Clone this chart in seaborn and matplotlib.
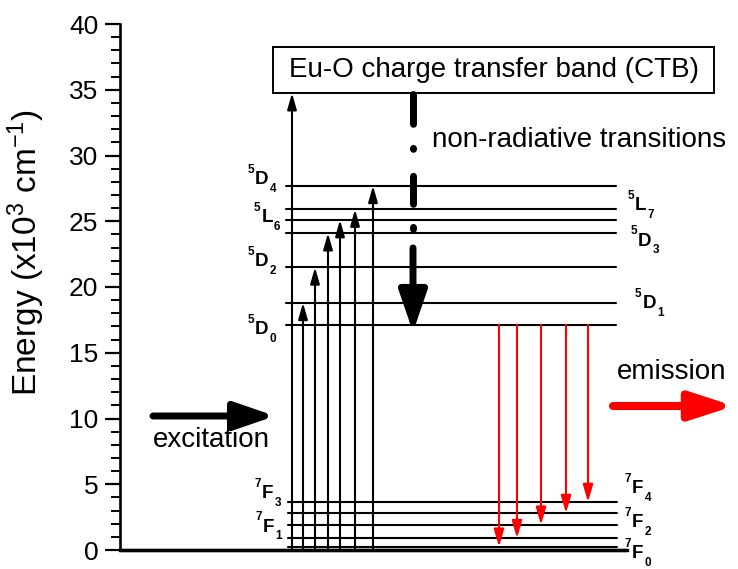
import matplotlib
matplotlib.use("Agg")
import matplotlib.pyplot as plt
from matplotlib.patches import Rectangle
from matplotlib.ticker import MultipleLocator
import numpy as np
import pandas as pd
import seaborn as sns

# ---------------- data (energies in 10^3 cm^-1) ----------------
upper_names = ["5D0", "5D1", "5D2", "5D3", "5L6", "5L7", "5D4"]
upper_E = [17.13, 18.8, 21.5, 24.1, 25.1, 25.9, 27.7]
lower_E = [0.25, 0.9, 1.92, 2.81, 3.65]
ground_E = 0.0
ctb_E = 34.75

# excitation (upward) arrows: target energies
excite_targets = [18.8, 21.5, 24.1, 25.1, 25.9, 27.7]
# emission (red) arrows from 5D0 down to these levels
emit_targets = [0.25, 0.9, 1.92, 2.81, 3.65]

# level labels: (superscript, letter, subscript)
left_labels = [("5", "D", "4"), ("5", "L", "6"), ("5", "D", "2"), ("5", "D", "0"),
               ("7", "F", "3"), ("7", "F", "1")]
right_labels = [("5", "L", "7"), ("5", "D", "3"), ("5", "D", "1"),
                ("7", "F", "4"), ("7", "F", "2"), ("7", "F", "0")]

# ---------------- layout (diagram x coordinates ~ pixels) ----------------
X_MIN, X_MAX = 120, 627
PX_PER_E = 13.15
Y0_PX = 550
UP_X0, UP_X1 = 286, 616
LO_X0, LO_X1 = 288, 617
CTB_ARROW_X = 292
EXC_X = [303, 315, 328, 340, 355, 373]
EMI_X = [499, 517, 541, 566, 588]
NR_X = 413
# letter (left x, centre y) positions for labels
left_pos = [(255, 180), (261.5, 218), (255, 261.7), (255, 330), (262, 494), (263, 527)]
right_pos = [(635, 206), (638, 241), (642.5, 304), (632, 488.5), (632, 522.5), (632, 553.5)]


def py(p):
    return (Y0_PX - p) / PX_PER_E


sns.set_theme(style="ticks")
plt.rcParams["font.family"] = ["Liberation Sans", "DejaVu Sans"]
plt.rcParams["mathtext.fontset"] = "custom"
plt.rcParams["mathtext.rm"] = "Liberation Sans"
plt.rcParams["mathtext.bf"] = "Liberation Sans:bold"
plt.rcParams["mathtext.it"] = "Liberation Sans:italic"
plt.rcParams["lines.scale_dashes"] = False
for k in ["text.color", "axes.labelcolor", "xtick.color", "ytick.color",
          "axes.edgecolor"]:
    plt.rcParams[k] = "black"

fig = plt.figure(figsize=(7.38, 5.69), dpi=100)
ax = fig.add_axes([X_MIN / 738, 1 - Y0_PX / 569, (X_MAX - X_MIN) / 738, 526 / 569])

# level lines through seaborn
rows = []
for i, e in enumerate(upper_E):
    rows += [dict(level=f"u{i}", x=UP_X0, E=e), dict(level=f"u{i}", x=UP_X1, E=e)]
for i, e in enumerate(lower_E):
    rows += [dict(level=f"l{i}", x=LO_X0, E=e), dict(level=f"l{i}", x=LO_X1, E=e)]
df = pd.DataFrame(rows)
sns.lineplot(data=df, x="x", y="E", units="level", estimator=None,
             color="black", lw=1.5, ax=ax, legend=False, sort=False)
ax.plot([X_MIN, X_MAX], [ground_E, ground_E], color="black", lw=2.4,
        clip_on=False, solid_capstyle="butt")

ax.set_xlim(X_MIN, X_MAX)
ax.set_ylim(0, 40)

# black excitation arrows
ap_k = dict(arrowstyle="-|>,head_length=0.7,head_width=0.2", color="black",
            lw=1.5, mutation_scale=14, shrinkA=0, shrinkB=0)
ax.annotate("", xy=(CTB_ARROW_X, ctb_E), xytext=(CTB_ARROW_X, ground_E),
            arrowprops=ap_k, annotation_clip=False)
for x, e in zip(EXC_X, excite_targets):
    ax.annotate("", xy=(x, e), xytext=(x, ground_E), arrowprops=ap_k)

# red emission arrows
ap_r = dict(arrowstyle="-|>,head_length=0.75,head_width=0.22", color="#ff0000",
            lw=1.5, mutation_scale=14, shrinkA=0, shrinkB=0)
for x, e in zip(EMI_X, emit_targets):
    ax.annotate("", xy=(x, e), xytext=(x, upper_E[0]), arrowprops=ap_r)

# non-radiative dash-dot arrow
ax.plot([NR_X, NR_X], [py(94), 23.2], color="black", lw=5,
        dashes=[21.5, 17.3, 0.7, 19.4, 20.2, 16.6, 1.4, 16.6, 60, 0],
        dash_capstyle="round", solid_capstyle="round")
ap_big = dict(arrowstyle="-|>,head_length=1.22,head_width=0.42", color="black",
              lw=5, mutation_scale=20, shrinkA=0, shrinkB=0)
ax.annotate("", xy=(NR_X, upper_E[0] - 0.55), xytext=(NR_X, 22.97), arrowprops=ap_big)

# excitation / emission big arrows
ax.annotate("", xy=(275, py(416)), xytext=(153, py(416)), arrowprops=ap_big)
ap_big_r = dict(arrowstyle="-|>,head_length=1.3,head_width=0.42", color="#ff0000",
                lw=5.8, mutation_scale=20, shrinkA=0, shrinkB=0)
ax.annotate("", xy=(734, py(406)), xytext=(613, py(406)), arrowprops=ap_big_r,
            annotation_clip=False)

# texts
ax.text(153, py(440), "excitation", fontsize=20, ha="left", va="center")
ax.text(617, py(372), "emission", fontsize=20, ha="left", va="center", clip_on=False)
ax.text(432, py(140), "non-radiative transitions", fontsize=20, ha="left",
        va="center", clip_on=False)
ax.add_patch(Rectangle((273, py(93)), 714 - 273, py(47) - py(93), fill=False,
                       ec="black", lw=1.4, clip_on=False))
ax.text(494, py(70), "Eu-O charge transfer band (CTB)", fontsize=20, ha="center",
        va="center", clip_on=False)


# level labels composed of letter + superscript + subscript
def level_label(sup, let, sub, xpx, ypx):
    t = ax.text(xpx, py(ypx), let, fontsize=13.5, fontweight="bold", ha="left",
                va="center", clip_on=False)
    ax.annotate(sup, xy=(0, 1), xycoords=t, xytext=(-0.8, 1.0),
                textcoords="offset points", ha="right", va="center",
                fontsize=8.5, fontweight="bold", annotation_clip=False)
    ax.annotate(sub, xy=(1, 0), xycoords=t, xytext=(0.8, -0.5),
                textcoords="offset points", ha="left", va="center",
                fontsize=8.5, fontweight="bold", annotation_clip=False)


for (s, l, b), (x, y) in zip(left_labels, left_pos):
    level_label(s, l, b, x, y)
for (s, l, b), (x, y) in zip(right_labels, right_pos):
    level_label(s, l, b, x, y)

# axes styling
ax.yaxis.set_major_locator(MultipleLocator(5))
ax.yaxis.set_minor_locator(MultipleLocator(1))
ax.tick_params(axis="y", which="major", direction="out", length=10.5, width=1.6,
               labelsize=19, pad=5, color="black", labelcolor="black")
ax.tick_params(axis="y", which="minor", direction="out", length=6.3, width=1.4,
               color="black")
ax.set_xticks([])
ax.set_xlabel("")
for sp in ["top", "right"]:
    ax.spines[sp].set_visible(False)
ax.spines["left"].set_linewidth(1.9)
ax.spines["bottom"].set_linewidth(2.4)
ax.set_ylabel(r"Energy (x10$^{3}$ cm$^{-1}$)", fontsize=24)
ax.yaxis.set_label_coords(-0.143, 0.565)
ax.set_facecolor("white")
fig.patch.set_facecolor("white")

fig.savefig("out.png", dpi=100, facecolor="white")
